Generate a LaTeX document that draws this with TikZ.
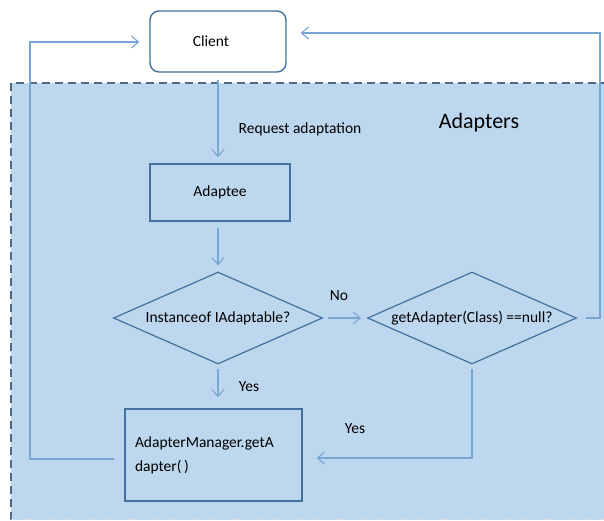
\documentclass[tikz,border=0pt]{standalone}
\usepackage{fontspec}
\setmainfont{Carlito}
\usetikzlibrary{arrows.meta,shapes.geometric,calc}
\definecolor{regionfill}{HTML}{BDD7EE}
\definecolor{boxline}{HTML}{41719C}
\definecolor{conline}{HTML}{7AA6D6}
\definecolor{dashline}{HTML}{4E6A86}
\tikzset{
  txt/.style={font=\fontsize{15.5}{18}\selectfont, text=black},
  procbox/.style={draw=boxline, line width=1.4pt, rectangle, inner sep=0pt, txt},
  decision/.style={draw=boxline, line width=1.2pt, diamond, aspect=2.27, inner sep=0pt,
    minimum width=209pt, minimum height=92pt, txt},
  conn/.style={draw=conline, line width=1.1pt,
    -{Straight Barb[length=7pt,width=12pt,line width=1.1pt]}},
  lbl/.style={txt, inner sep=0pt}
}
\begin{document}
\begin{tikzpicture}[x=1pt,y=-1pt]
\useasboundingbox (0,0) rectangle (604,520);
\fill[white] (0,0) rectangle (604,520);
% Adapters region
\fill[regionfill] (11,83) rectangle (604,520);
\draw[dashline, line width=1.4pt, dash pattern=on 8pt off 5pt] (11,520) -- (11,83) -- (604,83);
\draw[dashline!25, line width=0.8pt, dash pattern=on 8pt off 5pt] (11,519.5) -- (604,519.5);

\node[txt] (rq) at (300,129) {Request adaptation};
\node[font=\fontsize{22}{26}\selectfont] (adl) at (479,123) {Adapters};

% nodes
\node[procbox, rounded corners=9pt, fill=white, minimum width=136pt, minimum height=61pt] (client) at (218,41.5) {};
\node[lbl] (clienttxt) at (211,41.5) {Client};
\node[procbox, minimum width=140pt, minimum height=57pt] (adaptee) at (220,192.5) {Adaptee};
\node[decision] (d1) at (218,318) {Instanceof IAdaptable?};
\node[decision] (d2) at (472,318) {getAdapter(Class) ==null?};
\node[procbox, minimum width=177pt, minimum height=92pt, align=left,
      font=\fontsize{15.5}{24}\selectfont, text width=157pt, inner xsep=10pt] (mgr) at (213.5,455)
      {AdapterManager.getA\\dapter(\,)};

\coordinate (lc) at (30,42);
\coordinate (rc) at (600,318);

% connectors
\draw[conn, shorten <=7pt, shorten >=6pt] (client.south) -- (client.south |- adaptee.north);
\draw[conn, shorten <=6pt, shorten >=6pt] (d1.north |- adaptee.south) -- (d1.north);
\draw[conn, shorten <=5pt, shorten >=6pt] (d1.east) -- (d2.west);
\draw[conn, shorten <=4pt, shorten >=11pt] (d1.south) -- (d1.south |- mgr.north);
\draw[conn, shorten <=4pt, shorten >=14pt] (d2.south) |- ([yshift=-3pt]mgr.east);
\draw[conn, shorten <=10pt, shorten >=10pt] ([yshift=-4pt]mgr.west) -| (lc) -- (client.west |- lc);
\draw[conn, shorten <=9pt, shorten >=14pt] (d2.east) -- (rc) |- ([yshift=8.5pt]client.east);

% labels
\node[lbl] (no) at (339,296) {No};
\node[lbl] (yes1) at (249,387) {Yes};
\node[lbl] (yes2) at (355,429) {Yes};
\end{tikzpicture}
\end{document}
